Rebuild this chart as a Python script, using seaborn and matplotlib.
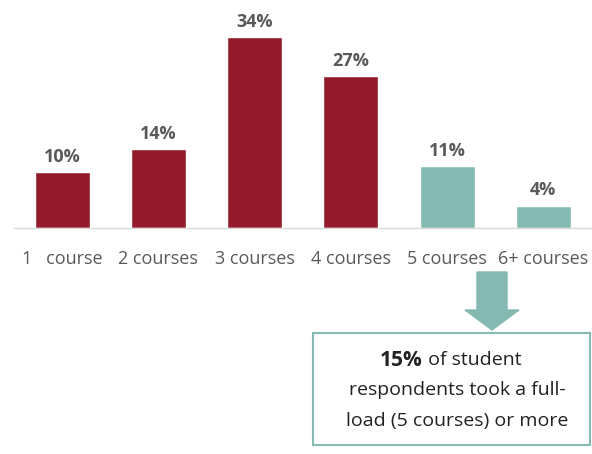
import matplotlib
matplotlib.use("Agg")
import matplotlib.pyplot as plt
import seaborn as sns
import pandas as pd
from matplotlib.patches import FancyArrow, Rectangle

categories = ["1   course", "2 courses", "3 courses", "4 courses", "5 courses", "6+ courses"]
shares = [10, 14, 34, 27, 11, 4]
groups = ["under", "under", "under", "under", "full", "full"]

red = "#931a2a"
teal = "#84bab2"
grey = "#595959"

sns.set_theme(style="white")
plt.rcParams["font.family"] = ["Open Sans", "DejaVu Sans"]

df = pd.DataFrame({"category": categories, "share": shares, "group": groups})

fig = plt.figure(figsize=(5.92, 4.54), dpi=100)
ax = fig.add_axes([14 / 592, (454 - 228) / 454, 577.5 / 592, 224.8 / 454])

sns.barplot(data=df, x="category", y="share", hue="group",
            palette={"under": red, "full": teal}, dodge=False,
            width=0.57, legend=False, saturation=1, ax=ax)

for i, v in enumerate(shares):
    ax.text(i, v + 1.1, f"{v}%", ha="center", va="bottom",
            fontsize=13, fontweight="bold", color=grey)

ax.set_xlim(-0.5, 5.5)
ax.set_ylim(0, 40)
ax.set_xlabel("")
ax.set_ylabel("")
ax.set_yticks([])
for s in ["top", "right", "left"]:
    ax.spines[s].set_visible(False)
ax.spines["bottom"].set_color("#d9d9d9")
ax.spines["bottom"].set_linewidth(1)
ax.tick_params(axis="x", length=0, pad=16, labelsize=13, labelcolor=grey)

# arrow and callout box
fig.patches.append(FancyArrow(492 / 592, 1 - 272 / 454, 0, -(330 - 272) / 454,
                              width=30 / 592, head_width=54 / 592,
                              head_length=20 / 454, length_includes_head=True,
                              color=teal, transform=fig.transFigure, figure=fig))
fig.patches.append(Rectangle((313 / 592, 1 - 445 / 454), 277 / 592, 112 / 454,
                             facecolor="white", edgecolor=teal, linewidth=1.5,
                             transform=fig.transFigure, figure=fig))

cx = 457 / 592
y1 = 1 - 360 / 454
t1 = fig.text(380 / 592, y1, "15%", ha="left", va="center",
              fontsize=15, fontweight="bold", color="#222222")
fig.canvas.draw()
bb = t1.get_window_extent()
fig.text(bb.x1 / 592, y1, " of student", ha="left", va="center",
         fontsize=14, color="#222222")
fig.text(cx, 1 - 390 / 454, "respondents took a full-", ha="center", va="center",
         fontsize=14, color="#222222")
fig.text(cx, 1 - 421 / 454, "load (5 courses) or more", ha="center", va="center",
         fontsize=14, color="#222222")

fig.savefig("out.png", dpi=100)
